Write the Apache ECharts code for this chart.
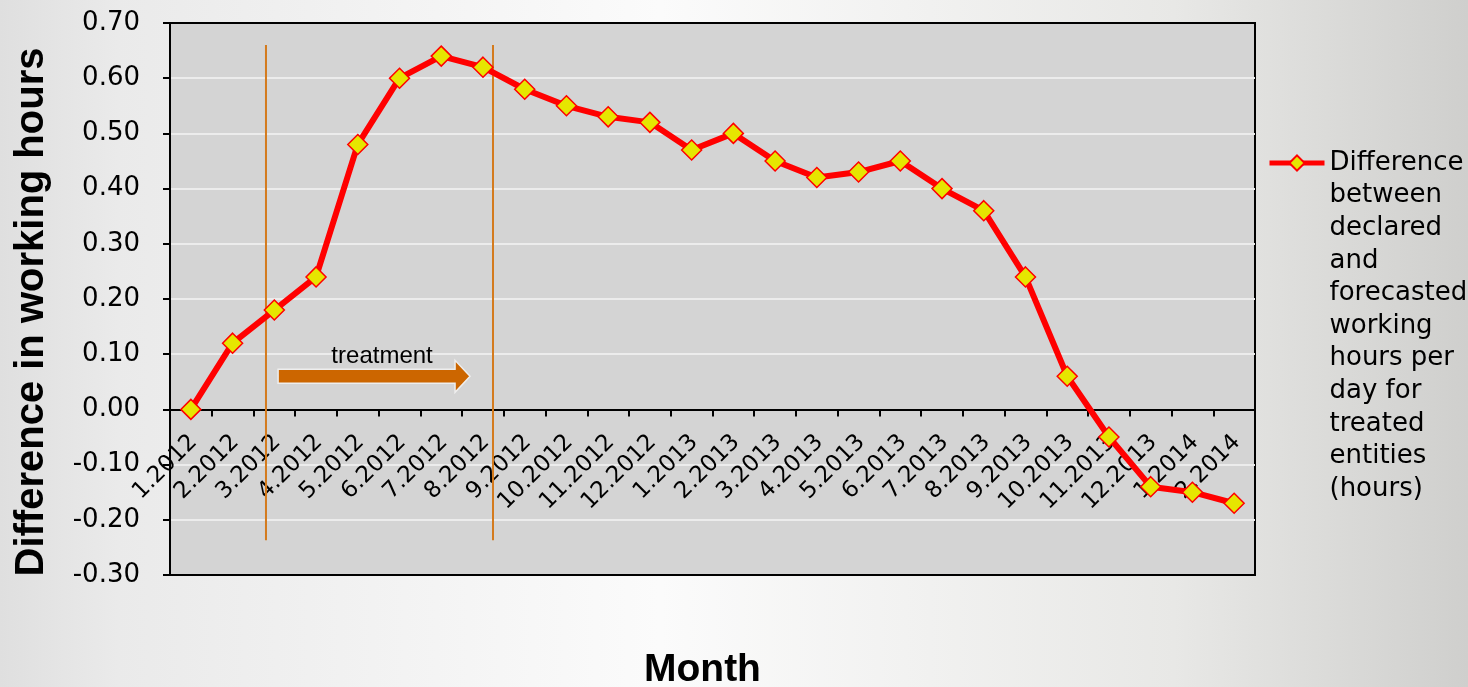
<!DOCTYPE html>
<html>
<head>
<meta charset="utf-8">
<script src="https://cdn.jsdelivr.net/npm/echarts@6/dist/echarts.min.js"></script>
<style>
  html, body { margin: 0; padding: 0; }
  #chart { width: 1468px; height: 687px; }
</style>
</head>
<body>
<div id="chart"></div>
<script>
// months on the x axis
const months = ['1.2012', '2.2012', '3.2012', '4.2012', '5.2012', '6.2012', '7.2012', '8.2012',
  '9.2012', '10.2012', '11.2012', '12.2012', '1.2013', '2.2013', '3.2013', '4.2013', '5.2013',
  '6.2013', '7.2013', '8.2013', '9.2013', '10.2013', '11.2013', '12.2013', '1.2014', '2.2014'];

// difference between declared and forecasted working hours (hours)
const diffHours = [0.00, 0.12, 0.18, 0.24, 0.48, 0.60, 0.64, 0.62, 0.58, 0.55, 0.53, 0.52, 0.47,
  0.50, 0.45, 0.42, 0.43, 0.45, 0.40, 0.36, 0.24, 0.06, -0.05, -0.14, -0.15, -0.17];

const seriesName = 'Difference between declared and forecasted working hours per day for treated entities (hours)';
const legendLines = ['Difference', 'between', 'declared', 'and', 'forecasted', 'working',
  'hours per', 'day for', 'treated', 'entities', '(hours)'];

// treatment window, in month units (0 = left edge of the plot, 26 = right edge)
const treatmentLineX = [2.30, 7.74];
const treatmentLineY = [0.66, -0.237];
const treatmentArrow = [[2.59, 7.19, 0.06]]; // [start, tip, value]
const treatmentLabel = 'treatment';

const yTicks = { min: -0.3, max: 0.7, interval: 0.1 };

const gridBox = { left: 170, right: 213, top: 23, bottom: 112 };
const plotHeight = 687 - gridBox.top - gridBox.bottom;
// the month axis sits on the zero line
const zeroOffset = -(0 - yTicks.min) / (yTicks.max - yTicks.min) * plotHeight;

const chart = echarts.init(document.getElementById('chart'));

const lineHeight = 32.6;
// blank lines in front so the icon lines up with the first text line
const legendText = new Array(legendLines.length - 1).fill('').concat(legendLines).join('\n');
const legendBoxH = lineHeight * (legendLines.length * 2 - 1);

const option = {
  animation: false,
  backgroundColor: {
    type: 'linear', x: 0, y: 0, x2: 1, y2: 0,
    colorStops: [
      { offset: 0, color: '#dfdfdf' },
      { offset: 0.08, color: '#eaeaea' },
      { offset: 0.45, color: '#fbfbfb' },
      { offset: 0.8, color: '#e8e8e6' },
      { offset: 1, color: '#cfcfcd' }
    ]
  },
  title: {
    text: 'Month',
    left: 644,
    top: 651,
    padding: 0,
    textStyle: { fontFamily: 'Liberation Sans', fontWeight: 'bold', fontSize: 39, color: '#000' }
  },
  legend: {
    data: [seriesName],
    orient: 'vertical',
    left: 1267,
    top: 163 - legendBoxH / 2,
    padding: 0,
    itemWidth: 55,
    itemHeight: 19,
    itemGap: 2,
    lineStyle: { width: 5, color: '#ff0000' },
    formatter: () => legendText,
    textStyle: {
      fontFamily: 'DejaVu Sans',
      fontSize: 26,
      lineHeight: lineHeight,
      color: '#000'
    }
  },
  grid: {
    left: gridBox.left, right: gridBox.right, top: gridBox.top, bottom: gridBox.bottom,
    outerBoundsMode: 'none',
    show: true,
    backgroundColor: '#d4d4d4',
    borderColor: '#000',
    borderWidth: 2
  },
  xAxis: [{
    type: 'category',
    data: months,
    boundaryGap: true,
    offset: zeroOffset,
    axisLine: { onZero: false, lineStyle: { color: '#000', width: 2 } },
    axisTick: { show: true, length: 7, lineStyle: { color: '#000', width: 2 } },
    axisLabel: {
      rotate: 45,
      interval: 0,
      margin: 32,
      padding: [0, -4, 0, 0],
      fontFamily: 'DejaVu Sans',
      fontSize: 23,
      color: '#000'
    },
    splitLine: { show: false }
  }, {
    type: 'value',
    min: 0,
    max: months.length,
    show: false
  }],
  yAxis: {
    type: 'value',
    min: yTicks.min,
    max: yTicks.max,
    interval: yTicks.interval,
    name: 'Difference in working hours',
    nameLocation: 'middle',
    nameRotate: 90,
    nameGap: 118,
    nameTextStyle: {
      fontFamily: 'Liberation Sans',
      fontWeight: 'bold',
      fontSize: 40,
      color: '#000',
      padding: [0, 26, 0, 0]
    },
    axisLine: { show: true, lineStyle: { color: '#000', width: 2 } },
    axisTick: { show: true, length: 7, lineStyle: { color: '#000', width: 2 } },
    axisLabel: {
      margin: 30,
      fontFamily: 'DejaVu Sans',
      fontSize: 26,
      color: '#000',
      formatter: v => v.toFixed(2)
    },
    splitLine: { showMinLine: false, showMaxLine: false, lineStyle: { color: '#ececec', width: 2 } }
  },
  series: [{
    name: seriesName,
    type: 'line',
    data: diffHours,
    z: 3,
    symbol: 'diamond',
    symbolSize: 20,
    lineStyle: { color: '#ff0000', width: 6 },
    itemStyle: { color: '#e6e600', borderColor: '#ff0000', borderWidth: 1.5 }
  }, {
    name: 'treatmentLines',
    type: 'custom',
    xAxisIndex: 1,
    yAxisIndex: 0,
    z: 1,
    silent: true,
    data: treatmentLineX.map(x => [x]),
    renderItem: (params, api) => {
      const x = api.value(0);
      const p1 = api.coord([x, treatmentLineY[0]]);
      const p2 = api.coord([x, treatmentLineY[1]]);
      return {
        type: 'line',
        shape: { x1: p1[0], y1: p1[1], x2: p2[0], y2: p2[1] },
        style: { stroke: '#d47b1e', lineWidth: 2 }
      };
    }
  }, {
    name: 'treatmentArrow',
    type: 'custom',
    xAxisIndex: 1,
    yAxisIndex: 0,
    z: 1,
    silent: true,
    data: treatmentArrow,
    renderItem: (params, api) => {
      const a = api.coord([api.value(0), api.value(2)]);
      const b = api.coord([api.value(1), api.value(2)]);
      const half = 7, headHalf = 16, headLen = 15;
      const y = a[1];
      const pts = [
        [a[0], y - half], [b[0] - headLen, y - half], [b[0] - headLen, y - headHalf],
        [b[0], y], [b[0] - headLen, y + headHalf], [b[0] - headLen, y + half], [a[0], y + half]
      ];
      return {
        type: 'group',
        children: [{
          type: 'polygon',
          shape: { points: pts },
          style: { fill: '#cc6600', stroke: '#eeeeee', lineWidth: 1.5 }
        }, {
          type: 'text',
          x: (a[0] + b[0]) / 2 + 8,
          y: y - 20,
          style: {
            text: treatmentLabel,
            fontFamily: 'Liberation Sans',
            fontSize: 24,
            fill: '#000',
            align: 'center',
            verticalAlign: 'middle'
          }
        }]
      };
    }
  }]
};

chart.setOption(option);
window.onresize = () => { chart.resize(); };
</script>
</body>
</html>
